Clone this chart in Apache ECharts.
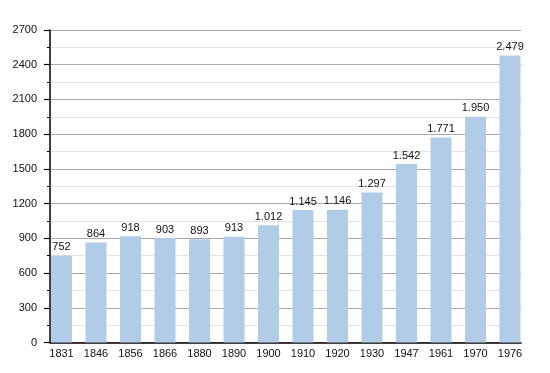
<!DOCTYPE html>
<html>
<head>
<meta charset="utf-8">
<script src="https://cdn.jsdelivr.net/npm/echarts@6/dist/echarts.min.js"></script>
<style>
html,body{margin:0;padding:0;background:#fff;}
#c{width:550px;height:373px;}
</style>
</head>
<body>
<div id="c"></div>
<script>
var years = ['1831','1846','1856','1866','1880','1890','1900','1910','1920','1930','1947','1961','1970','1976'];
var population = [752, 864, 918, 903, 893, 913, 1012, 1145, 1146, 1297, 1542, 1771, 1950, 2479];
var yTicks = [0, 300, 600, 900, 1200, 1500, 1800, 2100, 2400, 2700];

var yMin = yTicks[0], yMax = yTicks[yTicks.length - 1], yStep = yTicks[1] - yTicks[0];
var font = 'Liberation Sans, Arial, Helvetica, sans-serif';

function fmt(v) {
  return String(v).replace(/\B(?=(\d{3})+(?!\d))/g, '.');
}

var chart = echarts.init(document.getElementById('c'), null, {renderer: 'canvas'});
chart.setOption({
  animation: false,
  backgroundColor: '#ffffff',
  textStyle: {fontFamily: font},
  grid: [
    {left: 50, top: 30, width: 471, height: 312.5},
    {left: 44.25, top: 30, width: 483, height: 312.5}
  ],
  xAxis: [
    {
      gridIndex: 0, type: 'value', min: 0, max: 1,
      axisLine: {show: true, lineStyle: {color: '#000', width: 1.5}},
      axisTick: {show: false}, axisLabel: {show: false}, splitLine: {show: false}
    },
    {
      gridIndex: 1, type: 'category', data: years,
      axisLine: {show: false}, axisTick: {show: false},
      axisLabel: {color: '#111', fontSize: 11, margin: 6, fontFamily: font}
    }
  ],
  yAxis: [
    {
      gridIndex: 0, type: 'value', min: yMin, max: yMax, interval: yStep,
      axisLine: {show: true, lineStyle: {color: '#000', width: 1.5}},
      axisTick: {show: true, inside: false, length: 6, lineStyle: {color: '#000', width: 1.2}},
      minorTick: {show: true, splitNumber: 2, length: 3, lineStyle: {color: '#000', width: 1}},
      axisLabel: {color: '#111', fontSize: 11, margin: 13, fontFamily: font,
        formatter: function (v) { return String(v); }},
      splitLine: {show: true, lineStyle: {color: '#aaaaaa', width: 1}},
      minorSplitLine: {show: true, lineStyle: {color: '#e4e4e4', width: 1}}
    },
    {
      gridIndex: 1, type: 'value', min: yMin, max: yMax, interval: yStep,
      show: false, splitLine: {show: false}
    }
  ],
  series: [{
    type: 'bar',
    xAxisIndex: 1, yAxisIndex: 1,
    data: population,
    barWidth: 21,
    itemStyle: {color: '#b1cce6'},
    label: {
      show: true, position: 'top', distance: 3,
      color: '#111', fontSize: 11, fontFamily: font,
      formatter: function (p) { return fmt(p.value); }
    }
  }]
});
</script>
</body>
</html>
